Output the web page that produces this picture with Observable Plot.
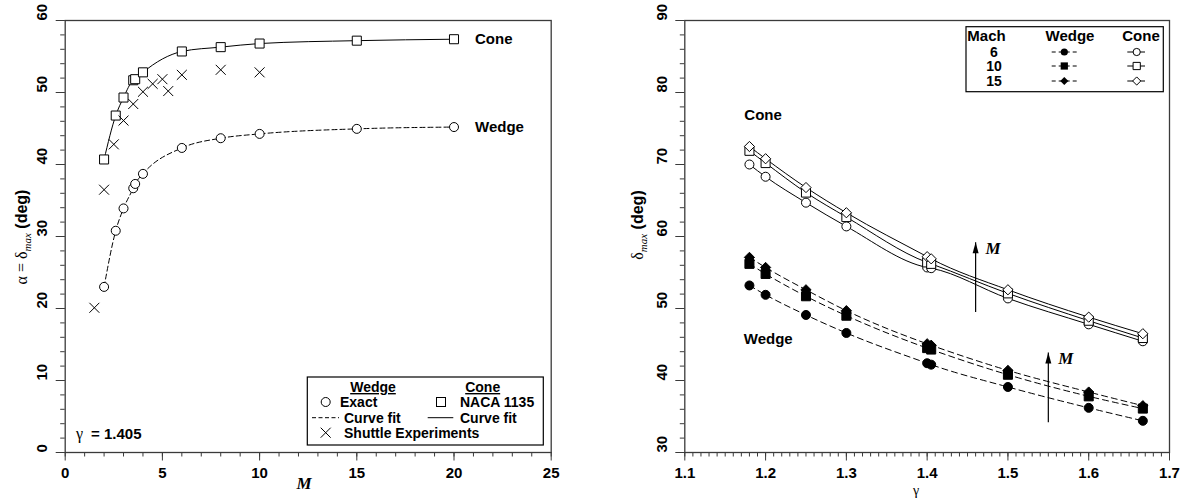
<!DOCTYPE html>
<html><head><meta charset="utf-8">
<script src="https://cdn.jsdelivr.net/npm/d3@7"></script>
<script src="https://cdn.jsdelivr.net/npm/@observablehq/plot@0.6"></script>
<style>
html,body{margin:0;padding:0;background:#fff}
body{width:1184px;height:499px;overflow:hidden;position:relative}
#left{position:absolute;left:0;top:0}
#right{position:absolute;left:590px;top:0}
svg{overflow:visible}
</style></head><body>
<div id="left"></div><div id="right"></div>
<script>
// ---------- Left panel data (gamma = 1.405) ----------
const machPts      = [2, 2.6, 3, 3.5, 3.6, 4, 6, 8, 10, 15, 20];
const wedgeExact   = [23.0, 30.8, 33.9, 36.7, 37.3, 38.7, 42.3, 43.65, 44.25, 44.95, 45.2];
const coneNaca     = [40.7, 46.8, 49.3, 51.7, 51.85, 52.8, 55.7, 56.3, 56.8, 57.2, 57.4];
const shuttleM     = [1.5, 2, 2.5, 3, 3.5, 4, 4.5, 5, 5.3, 6, 8, 10];
const shuttleAlpha = [20.1, 36.5, 42.8, 46.1, 48.4, 50.1, 51.2, 51.85, 50.2, 52.45, 53.15, 52.8];
const leftXTicks   = [0, 5, 10, 15, 20, 25];
const leftYTicks   = [0, 10, 20, 30, 40, 50, 60];

// ---------- Right panel data ----------
const gammas  = [1.18, 1.2, 1.25, 1.3, 1.4, 1.405, 1.5, 1.6, 1.667];
const machs   = [6, 10, 15];
const coneM6   = [70.0, 68.3, 64.7, 61.4, 55.7, 55.6, 51.4, 47.8, 45.45];
const coneM10  = [71.9, 70.2, 66.1, 62.7, 56.4, 56.2, 52.1, 48.3, 45.9];
const coneM15  = [72.5, 70.8, 66.8, 63.3, 57.2, 56.9, 52.6, 48.8, 46.5];
const wedgeM6  = [53.2, 51.9, 49.1, 46.6, 42.4, 42.2, 39.1, 36.2, 34.4];
const wedgeM10 = [56.2, 54.8, 51.7, 49.0, 44.5, 44.3, 40.8, 37.8, 36.1];
const wedgeM15 = [57.1, 55.7, 52.6, 49.7, 45.1, 44.9, 41.4, 38.4, 36.5];
const rightXTicks = [1.1, 1.2, 1.3, 1.4, 1.5, 1.6, 1.7];
const rightYTicks = [30, 40, 50, 60, 70, 80, 90];
const arrowGamma = [1.46, 1.55];
const arrowFrom  = [49.5, 34.2];
const arrowTo    = [59.2, 43.9];

// ---------- tables ----------
const leftTable = machPts.map((m, i) => ({M: m, wedge: wedgeExact[i], cone: coneNaca[i]}));
const shuttleTable = shuttleM.map((m, i) => ({M: m, a: shuttleAlpha[i]}));
const coneSeries = [coneM6, coneM10, coneM15];
const wedgeSeries = [wedgeM6, wedgeM10, wedgeM15];
const rightTable = [];
machs.forEach((mach, k) => gammas.forEach((g, i) => {
  rightTable.push({g, v: coneSeries[k][i], mach, body: "Cone"});
  rightTable.push({g, v: wedgeSeries[k][i], mach, body: "Wedge"});
}));
const arrows = arrowGamma.map((g, i) => ({g, y1: arrowFrom[i], y2: arrowTo[i]}));

const SANS = "'Liberation Sans', Arial, Helvetica, sans-serif";
const SERIF = "'Liberation Serif', 'Times New Roman', serif";
const AX = "#3a3a3a";
const symbolFor = {6: "circle", 10: "square", 15: "diamond2"};
const rFor = {6: 4.5, 10: 5.1, 15: 4.6};
const arrowHead = {draw(ctx) { ctx.moveTo(0, 0); ctx.lineTo(3, 11); ctx.lineTo(-3, 11); ctx.closePath(); }};

function axes(xMajor, xMinor, yMajor, yMinor, fmt) {
  return [
    Plot.axisX({ticks: xMinor, tickSize: 4.5, tickFormat: () => "", stroke: AX, label: null}),
    Plot.axisX({ticks: xMajor, tickSize: 8.5, tickPadding: 6.5, tickFormat: fmt, stroke: AX, fill: "black",
                fontWeight: "bold", fontSize: 15, label: null}),
    Plot.axisY({ticks: yMinor, tickSize: 4.5, tickFormat: () => "", stroke: AX, label: null}),
    Plot.axisY({ticks: yMajor, tickSize: 9, tickFormat: () => "", stroke: AX, label: null}),
    Plot.text(yMajor, {y: d => d, frameAnchor: "left", dx: -23, rotate: -90, text: d => String(d),
                       fontWeight: "bold", fontSize: 15, fill: "black"}),
    Plot.frame({stroke: AX, strokeWidth: 1.3})
  ];
}

// ---------- Left plot ----------
const left = Plot.plot({
  width: 590, height: 499, marginLeft: 64.7, marginRight: 39.3, marginTop: 20, marginBottom: 47,
  x: {domain: [0, 25]}, y: {domain: [0, 60]},
  style: {fontFamily: SANS, background: "white"},
  marks: [
    ...axes(leftXTicks, d3.range(0, 25.001, 1), leftYTicks, d3.range(0, 60.001, 2), d => String(d)),
    Plot.line(leftTable, {x: "M", y: "wedge", curve: "monotone-x", stroke: "black", strokeWidth: 1, strokeDasharray: "5,3"}),
    Plot.line(leftTable, {x: "M", y: "cone", curve: "monotone-x", stroke: "black", strokeWidth: 1}),
    Plot.dot(leftTable, {x: "M", y: "wedge", symbol: "circle", r: 4.5, fill: "white", stroke: "black", strokeWidth: 1}),
    Plot.dot(leftTable, {x: "M", y: "cone", symbol: "square", r: 5.1, fill: "white", stroke: "black", strokeWidth: 1}),
    Plot.dot(shuttleTable, {x: "M", y: "a", symbol: "times", r: 4.6, stroke: "black", strokeWidth: 1}),
    Plot.text(leftTable.slice(-1), {x: "M", y: "cone", text: () => "Cone", dx: 21, textAnchor: "start", fontWeight: "bold", fontSize: 15, fill: "black"}),
    Plot.text(leftTable.slice(-1), {x: "M", y: "wedge", text: () => "Wedge", dx: 21, textAnchor: "start", fontWeight: "bold", fontSize: 15, fill: "black"})
  ]
});
document.getElementById("left").appendChild(left);

// ---------- Right plot ----------
const right = Plot.plot({
  width: 594, height: 499, marginLeft: 94.3, marginRight: 15, marginTop: 20, marginBottom: 47,
  x: {domain: [1.1, 1.7]}, y: {domain: [30, 90]},
  style: {fontFamily: SANS, background: "white"},
  marks: [
    ...axes(rightXTicks, d3.range(110, 170.5, 1).map(d => d / 100), rightYTicks, d3.range(30, 90.001, 2), d3.format(".1f")),
    Plot.line(rightTable.filter(d => d.body === "Cone"), {x: "g", y: "v", z: "mach", curve: "monotone-x", stroke: "black", strokeWidth: 1}),
    Plot.line(rightTable.filter(d => d.body === "Wedge"), {x: "g", y: "v", z: "mach", curve: "monotone-x", stroke: "black", strokeWidth: 1, strokeDasharray: "6,4"}),
    ...machs.map(m => Plot.dot(rightTable.filter(d => d.body === "Cone" && d.mach === m),
      {x: "g", y: "v", symbol: symbolFor[m], r: rFor[m], fill: "white", stroke: "black", strokeWidth: 1})),
    ...machs.map(m => Plot.dot(rightTable.filter(d => d.body === "Wedge" && d.mach === m),
      {x: "g", y: "v", symbol: symbolFor[m], r: rFor[m], fill: "black", stroke: "black", strokeWidth: 1})),
    Plot.link(arrows, {x1: "g", x2: "g", y1: "y1", y2: "y2", stroke: "black", strokeWidth: 1.2}),
    Plot.dot(arrows, {x: "g", y: "y2", symbol: arrowHead, fill: "black", stroke: "none"}),
    Plot.text(arrows, {x: "g", y: "y2", text: () => "M", dx: 10, dy: 6, textAnchor: "start", fontStyle: "italic",
                       fontWeight: "bold", fontSize: 17, fontFamily: SERIF, fill: "black"}),
    Plot.text(["Cone"], {x: 1.1737, y: 76.9, text: d => d, textAnchor: "start", fontWeight: "bold", fontSize: 15, fill: "black"}),
    Plot.text(["Wedge"], {x: 1.173, y: 45.8, text: d => d, textAnchor: "start", fontWeight: "bold", fontSize: 15, fill: "black"})
  ]
});
document.getElementById("right").appendChild(right);

// ---------- titles & legends ----------
function yTitle(svg, x, y, pre) {
  const t = d3.select(svg).append("text").attr("transform", `translate(${x},${y}) rotate(-90)`)
    .attr("text-anchor", "middle").attr("fill", "black");
  t.append("tspan").attr("font-family", SERIF).attr("font-size", 16).text(pre + "δ");
  t.append("tspan").attr("font-family", SERIF).attr("font-style", "italic").attr("font-size", 11).attr("dy", 4).text("max");
  t.append("tspan").attr("font-family", SANS).attr("font-weight", "bold").attr("font-size", 16).attr("dy", -4).text(" (deg)");
}
yTitle(left, 27, 237, "α = ");
yTitle(right, 53, 225, "");

const L = d3.select(left);
L.append("text").attr("x", 304).attr("y", 489).attr("text-anchor", "middle").attr("font-family", SERIF)
  .attr("font-style", "italic").attr("font-weight", "bold").attr("font-size", 17).text("M");
const g1 = L.append("text").attr("x", 76).attr("y", 439).attr("text-anchor", "start").attr("fill", "black");
g1.append("tspan").attr("font-family", SERIF).attr("font-size", 16).text("γ");
g1.append("tspan").attr("font-family", SANS).attr("font-weight", "bold").attr("font-size", 15).attr("dx", 8).text("= 1.405");

d3.select(right).append("text").attr("x", 326).attr("y", 495).attr("text-anchor", "middle")
  .attr("font-family", SERIF).attr("font-size", 14).text("γ");

// left legend
const lg = L.append("g").attr("font-family", SANS).attr("font-weight", "bold").attr("font-size", 14)
  .attr("fill", "black").attr("text-anchor", "start");
lg.append("rect").attr("x", 307.3).attr("y", 377).attr("width", 236).attr("height", 68).attr("fill", "white").attr("stroke", "black").attr("stroke-width", 1.2);
lg.append("text").attr("x", 373).attr("y", 392).attr("text-anchor", "middle").attr("text-decoration", "underline").text("Wedge");
lg.append("text").attr("x", 482.7).attr("y", 392).attr("text-anchor", "middle").attr("text-decoration", "underline").text("Cone");
lg.append("circle").attr("cx", 325.7).attr("cy", 402).attr("r", 4.5).attr("fill", "white").attr("stroke", "black");
lg.append("text").attr("x", 340).attr("y", 407).text("Exact");
lg.append("rect").attr("x", 436.5).attr("y", 397.5).attr("width", 9).attr("height", 9).attr("fill", "white").attr("stroke", "black");
lg.append("text").attr("x", 460).attr("y", 407).text("NACA 1135");
lg.append("line").attr("x1", 312).attr("x2", 339).attr("y1", 417.7).attr("y2", 417.7).attr("stroke", "black").attr("stroke-dasharray", "4,2.5");
lg.append("text").attr("x", 344).attr("y", 422.7).text("Curve fit");
lg.append("line").attr("x1", 427.7).attr("x2", 453.3).attr("y1", 417.7).attr("y2", 417.7).attr("stroke", "black");
lg.append("text").attr("x", 460).attr("y", 422.7).text("Curve fit");
lg.append("path").attr("d", d3.symbol(d3.symbolTimes, 67)()).attr("transform", "translate(325.7,432.7)").attr("fill", "none").attr("stroke", "black");
lg.append("text").attr("x", 344).attr("y", 437.7).text("Shuttle Experiments");

// right legend
const R = d3.select(right);
const rg = R.append("g").attr("font-family", SANS).attr("font-weight", "bold").attr("font-size", 14)
  .attr("fill", "black").attr("text-anchor", "start");
rg.append("rect").attr("x", 376).attr("y", 26.7).attr("width", 197.3).attr("height", 65).attr("fill", "white").attr("stroke", "black").attr("stroke-width", 1.2);
rg.append("text").attr("x", 377.3).attr("y", 40.5).attr("font-size", 15).text("Mach");
rg.append("text").attr("x", 480).attr("y", 40.5).attr("font-size", 15).attr("text-anchor", "middle").text("Wedge");
rg.append("text").attr("x", 551).attr("y", 40.5).attr("font-size", 15).attr("text-anchor", "middle").text("Cone");
const symMap = {circle: d3.symbolCircle, square: d3.symbolSquare, diamond2: d3.symbolDiamond2};
const rowY = [52, 66, 81];
machs.forEach((m, i) => {
  const y = rowY[i];
  rg.append("text").attr("x", 404).attr("y", y + 5).attr("text-anchor", "middle").text(String(m));
  rg.append("line").attr("x1", 461.7).attr("x2", 486.7).attr("y1", y).attr("y2", y).attr("stroke", "black").attr("stroke-dasharray", "4,3");
  const sz = Math.PI * (rFor[m] * 0.8) ** 2;
  rg.append("path").attr("d", d3.symbol(symMap[symbolFor[m]], sz)()).attr("transform", `translate(474.3,${y})`).attr("fill", "black");
  rg.append("line").attr("x1", 537.3).attr("x2", 555).attr("y1", y).attr("y2", y).attr("stroke", "black");
  rg.append("path").attr("d", d3.symbol(symMap[symbolFor[m]], sz)()).attr("transform", `translate(546.7,${y})`).attr("fill", "white").attr("stroke", "black");
});
</script>
</body></html>
